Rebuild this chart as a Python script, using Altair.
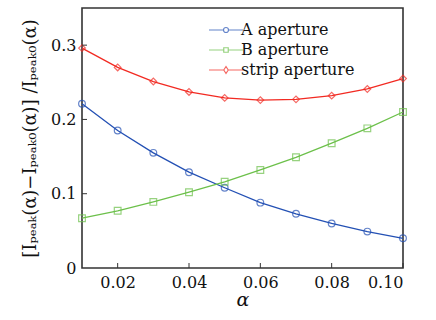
import altair as alt
import pandas as pd

alpha = [0.01, 0.02, 0.03, 0.04, 0.05, 0.06, 0.07, 0.08, 0.09, 0.10]
a_vals = [0.221, 0.185, 0.155, 0.129, 0.108, 0.088, 0.073, 0.060, 0.049, 0.040]
b_vals = [0.067, 0.077, 0.089, 0.102, 0.116, 0.132, 0.149, 0.168, 0.188, 0.210]
strip_vals = [0.296, 0.270, 0.251, 0.237, 0.229, 0.226, 0.227, 0.232, 0.241, 0.255]

series_names = ["A aperture", "B aperture", "strip aperture"]
series_colors = ["#2350b4", "#6cc04a", "#f22a22"]
series_shapes = ["circle", "square", "diamond"]
x_ticks = [0.02, 0.04, 0.06, 0.08, 0.10]
y_ticks = [0.0, 0.1, 0.2, 0.3]

# legend symbols: line with marker (unit coordinates, r = 7px)
legend_paths = [
    "M-2.43,0L-0.36,0M0.36,0L2.43,0M0.36,0A0.36,0.36 0 1,1 -0.36,0A0.36,0.36 0 1,1 0.36,0",
    "M-2.43,0L-0.32,0M0.32,0L2.43,0M-0.32,-0.32L0.32,-0.32L0.32,0.32L-0.32,0.32Z",
    "M-2.43,0L-0.32,0M0.32,0L2.43,0M0,-0.5L0.32,0L0,0.5L-0.32,0Z",
]

rows = []
for name, col, shp, vals in zip(series_names, series_colors, series_shapes,
                                [a_vals, b_vals, strip_vals]):
    for x, y in zip(alpha, vals):
        rows.append({"alpha": x, "value": y, "series": name, "col": col, "shp": shp})
df = pd.DataFrame(rows)

FONT = "DejaVu Serif"
W, H = 321, 260

xs = alt.X("alpha:Q", scale=alt.Scale(domain=[0.01, 0.10], nice=False, zero=False),
           axis=alt.Axis(values=x_ticks, format=".2f", title="α", titleFontStyle="italic",
                         titleFontWeight="normal", titleFontSize=19, titlePadding=0,
                         labelFontSize=16, labelPadding=6, ticks=False, domain=False,
                         grid=False, labelColor="#111", titleColor="#111",
                         labelFont=FONT, titleFont=FONT))
ys = alt.Y("value:Q", scale=alt.Scale(domain=[0, 0.35], nice=False),
           axis=alt.Axis(values=y_ticks, labelExpr="datum.value == 0 ? '0' : format(datum.value, '.1f')",
                         title="[I\u209a\u2091\u2090\u2096(α)−I\u209a\u2091\u2090\u2096\u2080(α)] /I\u209a\u2091\u2090\u2096\u2080(α)",
                         titleFontWeight="normal", titleFontSize=18, titlePadding=11,
                         labelFontSize=16, labelPadding=6, ticks=False, domain=False,
                         grid=False, labelColor="#111", titleColor="#111",
                         labelFont=FONT, titleFont=FONT))

base = alt.Chart(df)

lines = base.mark_line(strokeWidth=1.3).encode(
    x=xs, y=ys,
    color=alt.Color("col:N", scale=None),
    detail="series:N",
)
points = base.mark_point(filled=False, size=45, strokeWidth=1.2).encode(
    x="alpha:Q", y="value:Q",
    color=alt.Color("col:N", scale=None),
    shape=alt.Shape("shp:N", scale=None),
)

legend_layer = base.mark_point(filled=False, strokeWidth=1.2).encode(
    x="alpha:Q", y="value:Q",
    color=alt.Color("series:N", scale=alt.Scale(domain=series_names, range=series_colors),
                    legend=alt.Legend(title=None, orient="none", legendX=136, legendY=14,
                                      symbolSize=196, symbolStrokeWidth=1.2,
                                      labelFont=FONT, labelFontSize=16, labelColor="#111",
                                      labelOffset=7, rowPadding=4, padding=0)),
    shape=alt.Shape("series:N", scale=alt.Scale(domain=series_names, range=legend_paths)),
).transform_filter("false")

xtick_df = pd.DataFrame({"t": x_ticks})
ytick_df = pd.DataFrame({"t": y_ticks[1:]})
xtick_rules = alt.Chart(xtick_df).mark_rule(color="#333", strokeWidth=1).encode(
    x=alt.X("t:Q"), y=alt.value(H), y2=alt.value(H - 5))
ytick_rules = alt.Chart(ytick_df).mark_rule(color="#333", strokeWidth=1).encode(
    y=alt.Y("t:Q"), x=alt.value(0), x2=alt.value(5))

chart = alt.layer(lines, points, legend_layer, xtick_rules, ytick_rules).properties(
    width=W, height=H,
    autosize=alt.AutoSizeParams(type="none"),
    padding={"left": 82, "top": 8, "right": 33, "bottom": 52},
    background="white",
).configure(font=FONT).configure_view(stroke="#333", strokeWidth=1.6)

chart.save("out.html", embed_options={"renderer": "svg", "actions": False})
